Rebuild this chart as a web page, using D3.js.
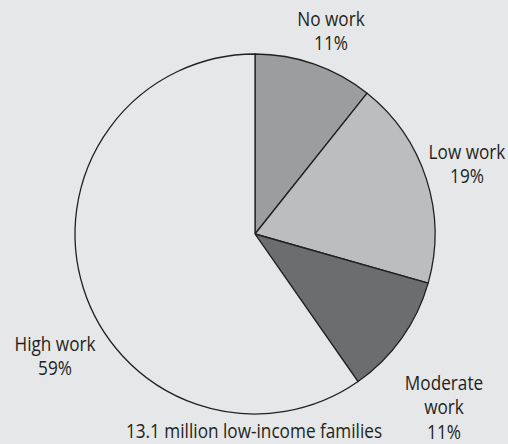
<!DOCTYPE html>
<html><head><meta charset="utf-8">
<script src="https://cdn.jsdelivr.net/npm/d3@7"></script>
<style>html,body{margin:0;padding:0;background:#e6e7e8;}svg{display:block;}</style>
</head><body>
<script>
const categories = ["No work", "Low work", "Moderate work", "High work"];
const values = [10.7, 18.7, 10.9, 59.7];
const percentLabels = ["11%", "19%", "11%", "59%"];
const labelLines = [["No work", "11%"], ["Low work", "19%"], ["Moderate", "work", "11%"], ["High work", "59%"]];
const caption = "13.1 million low-income families";
const colors = ["#9c9d9f", "#bcbdbf", "#6c6d6f", "#e6e7e8"];

const W = 508, H = 444, cx = 255, cy = 234, R = 180;
const svg = d3.select("body").append("svg").attr("width", W).attr("height", H);
svg.append("rect").attr("width", W).attr("height", H).attr("fill", "#e6e7e8");

const pie = d3.pie().sort(null).value(d => d.v);
const data = pie(categories.map((c, i) => ({c, v: values[i], i})));
const arc = d3.arc().innerRadius(0).outerRadius(R);
const color = d3.scaleOrdinal().domain(categories).range(colors);

const g = svg.append("g").attr("transform", `translate(${cx},${cy})`);
g.selectAll("path").data(data).enter().append("path")
  .attr("d", arc).attr("fill", d => color(d.data.c))
  .attr("stroke", "#231f20").attr("stroke-width", 1.3).attr("stroke-linejoin", "round");

const labelPos = [[331, 26], [467, 159], [444, 390], [55, 351]];
const fontFam = "'Open Sans', 'Noto Sans', sans-serif";
const sx = 0.86, fs = 20;
function addText(x, y, lines, lh) {
  const t = svg.append("text").attr("text-anchor", "middle")
    .attr("transform", `translate(${x},${y}) scale(${sx},1)`)
    .attr("font-family", fontFam).attr("font-size", fs).attr("fill", "#231f20");
  lines.forEach((ln, j) => t.append("tspan").attr("x", 0).attr("y", j * lh).text(ln));
}
labelLines.forEach((lines, i) => addText(labelPos[i][0], labelPos[i][1], lines, 24.5));
addText(254, 438, [caption], 0);
</script>
</body></html>
